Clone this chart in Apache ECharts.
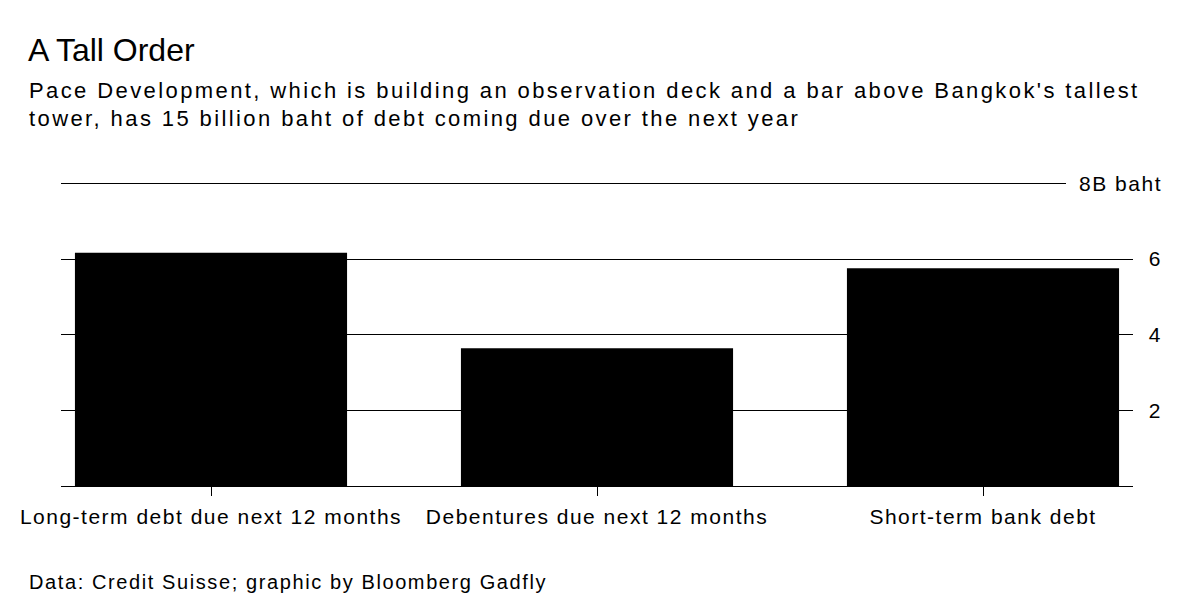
<!DOCTYPE html>
<html>
<head>
<meta charset="utf-8">
<script src="https://cdn.jsdelivr.net/npm/echarts@6/dist/echarts.min.js"></script>
<style>
html,body{margin:0;padding:0;background:#fff;}
#chart{width:1200px;height:616px;}
</style>
</head>
<body>
<div id="chart"></div>
<script>
const categories = ['Long-term debt due next 12 months', 'Debentures due next 12 months', 'Short-term bank debt'];
const debtValues = [6.16, 3.64, 5.75];
const yTicks = [0, 2, 4, 6, 8];
const yTickLabels = ['', '2', '4', '6', '8B baht'];

const FONT = '"Liberation Sans", Arial, sans-serif';
const chart = echarts.init(document.getElementById('chart'), null, {renderer: 'svg'});
const gTop = 183, gBottom = 130;
const option = {
  backgroundColor: '#fff',
  animation: false,
  textStyle: {fontFamily: FONT, color: '#000'},
  title: [
    {text: 'A Tall Order', left: 23, top: 29,
     textStyle: {fontFamily: FONT, fontSize: 32, fontWeight: 'normal', color: '#000'}},
    {text: "Pace Development, which is building an observation deck and a bar above Bangkok's tallest\ntower, has 15 billion baht of debt coming due over the next year",
     left: 24, top: 71,
     textStyle: {fontFamily: FONT, fontSize: 22, fontWeight: 'normal', color: '#000', lineHeight: 28}},
    {text: 'Data: Credit Suisse; graphic by Bloomberg Gadfly', left: 24, top: 567,
     textStyle: {fontFamily: FONT, fontSize: 20, fontWeight: 'normal', color: '#000'}}
  ],
  grid: [
    {left: 18, right: 24, top: gTop, bottom: gBottom},
    {left: 61, right: 67, top: gTop, bottom: gBottom},
    {left: 61, right: 134, top: gTop, bottom: gBottom}
  ],
  xAxis: [
    {gridIndex: 0, type: 'category', data: categories, boundaryGap: true,
     axisLine: {show: false},
     axisTick: {show: true, alignWithLabel: true, length: 10, lineStyle: {color: '#000', width: 1}},
     axisLabel: {margin: 20, fontSize: 21, color: '#000', fontFamily: FONT, interval: 0}},
    {gridIndex: 1, type: 'value', min: 0, max: 1, show: false},
    {gridIndex: 2, type: 'value', min: 0, max: 1, show: false}
  ],
  yAxis: [
    {gridIndex: 0, type: 'value', min: 0, max: 8, interval: 2, show: false},
    {gridIndex: 1, type: 'value', position: 'right', min: 0, max: 8, interval: 2,
     axisLine: {show: false}, axisTick: {show: false},
     splitLine: {show: true, lineStyle: {color: ['#000', '#000', '#000', '#000', 'rgba(0,0,0,0)'], width: 1}},
     axisLabel: {margin: 29, align: 'right', fontSize: 21, color: '#000', fontFamily: FONT,
       formatter: function (v) { const i = yTicks.indexOf(v); return i >= 0 ? yTickLabels[i] : ''; }}},
    {gridIndex: 2, type: 'value', min: 0, max: 8, interval: 8,
     axisLine: {show: false}, axisTick: {show: false}, axisLabel: {show: false},
     splitLine: {show: true, lineStyle: {color: ['rgba(0,0,0,0)', '#000'], width: 1}}}
  ],
  series: [
    {type: 'bar', xAxisIndex: 0, yAxisIndex: 0, data: debtValues,
     barCategoryGap: '29.5%', itemStyle: {color: '#000'}, z: 3}
  ]
};
chart.setOption(option);

// The reference typeface is set wide; widen the text tracking to match.
document.querySelectorAll('#chart svg text').forEach(function (t) {
  const s = t.textContent;
  if (s === 'A Tall Order') return;
  if (s.indexOf('Pace Development') === 0 || s.indexOf('tower,') === 0) {
    t.style.letterSpacing = '2.4px';
  } else if (s.indexOf('Data:') === 0) {
    t.style.letterSpacing = '1.6px';
  } else {
    t.style.letterSpacing = '1.5px';
  }
});
</script>
</body>
</html>
